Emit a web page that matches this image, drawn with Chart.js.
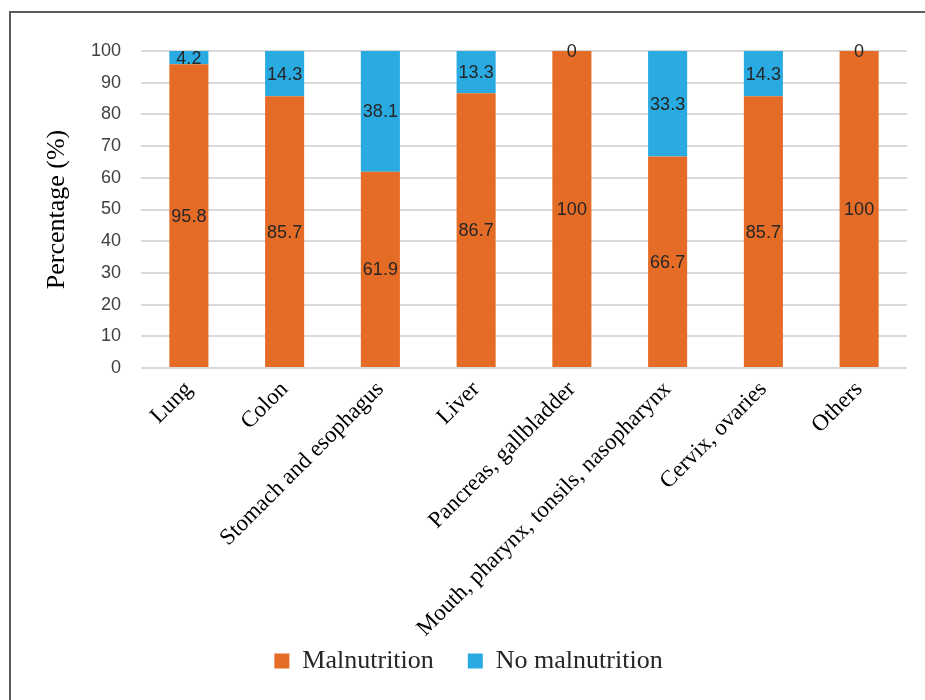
<!DOCTYPE html>
<html>
<head>
<meta charset="utf-8">
<script src="https://cdn.jsdelivr.net/npm/chart.js@4/dist/chart.umd.min.js"></script>
<style>
  body { margin: 0; background: #fff; }
  #frame { position: absolute; left: 9px; top: 11px; width: 1000px; height: 1000px; border: 2px solid #5a5a5a; }
  #myChart { position: absolute; left: 0; top: 0; }
</style>
</head>
<body>
<div id="frame"></div>
<canvas id="myChart" width="925" height="700"></canvas>
<script>
var categories = ['Lung', 'Colon', 'Stomach and esophagus', 'Liver', 'Pancreas, gallbladder',
                  'Mouth, pharynx, tonsils, nasopharynx', 'Cervix, ovaries', 'Others'];
var malnutrition = [95.8, 85.7, 61.9, 86.7, 100, 66.7, 85.7, 100];
var noMalnutrition = [4.2, 14.3, 38.1, 13.3, 0, 33.3, 14.3, 0];
var seriesNames = ['Malnutrition', 'No malnutrition'];
var yMin = 0, yMax = 100, yStep = 10;

// values written in the middle of each segment
var segmentLabels = {
    id: 'segmentLabels',
    afterDatasetsDraw: function (chart) {
        var ctx = chart.ctx;
        ctx.save();
        ctx.font = '18px "Liberation Sans"';
        ctx.fillStyle = '#262626';
        ctx.textAlign = 'center';
        ctx.textBaseline = 'middle';
        chart.data.datasets.forEach(function (ds, i) {
            var meta = chart.getDatasetMeta(i);
            meta.data.forEach(function (bar, j) {
                var p = bar.getProps(['x', 'y', 'base'], true);
                ctx.fillText(String(ds.data[j]), p.x, (p.y + p.base) / 2 + 1);
            });
        });
        ctx.restore();
    }
};

var ctx = document.getElementById('myChart').getContext('2d');
new Chart(ctx, {
    type: 'bar',
    data: {
        labels: categories,
        datasets: [
            { label: seriesNames[0], data: malnutrition, backgroundColor: '#e46c26',
              barPercentage: 0.51, categoryPercentage: 0.8 },
            { label: seriesNames[1], data: noMalnutrition, backgroundColor: '#29abe2',
              barPercentage: 0.51, categoryPercentage: 0.8 }
        ]
    },
    options: {
        responsive: false,
        animation: false,
        devicePixelRatio: 1,
        layout: { padding: { left: 30, right: 18, top: 51, bottom: 16 } },
        plugins: {
            tooltip: { enabled: false },
            legend: {
                position: 'bottom',
                labels: {
                    boxWidth: 15, boxHeight: 15, padding: 8,
                    color: '#262626',
                    font: { family: '"Liberation Serif"', size: 26 },
                    generateLabels: function (chart) {
                        var items = Chart.defaults.plugins.legend.labels.generateLabels(chart);
                        // wider gap after the first entry
                        items[0].text = items[0].text + '    ';
                        return items;
                    }
                }
            }
        },
        scales: {
            x: {
                stacked: true,
                grid: { display: false },
                border: { display: false },
                ticks: {
                    minRotation: 45, maxRotation: 45, padding: 0,
                    color: '#000',
                    font: { family: '"Liberation Serif"', size: 23 }
                },
                afterFit: function (axis) { axis.height = 272; }
            },
            y: {
                stacked: true,
                min: yMin, max: yMax,
                grid: { color: '#d9d9d9', lineWidth: 2, drawTicks: false },
                border: { display: false },
                ticks: {
                    stepSize: yStep, padding: 20,
                    color: '#404040',
                    font: { family: '"Liberation Sans"', size: 18 }
                },
                title: {
                    display: true, text: 'Percentage (%)',
                    color: '#000',
                    padding: { top: 12, bottom: 0 },
                    font: { family: '"Liberation Serif"', size: 26 }
                },
                afterFit: function (axis) { axis.width = 111; }
            }
        }
    },
    plugins: [segmentLabels]
});
</script>
</body>
</html>
